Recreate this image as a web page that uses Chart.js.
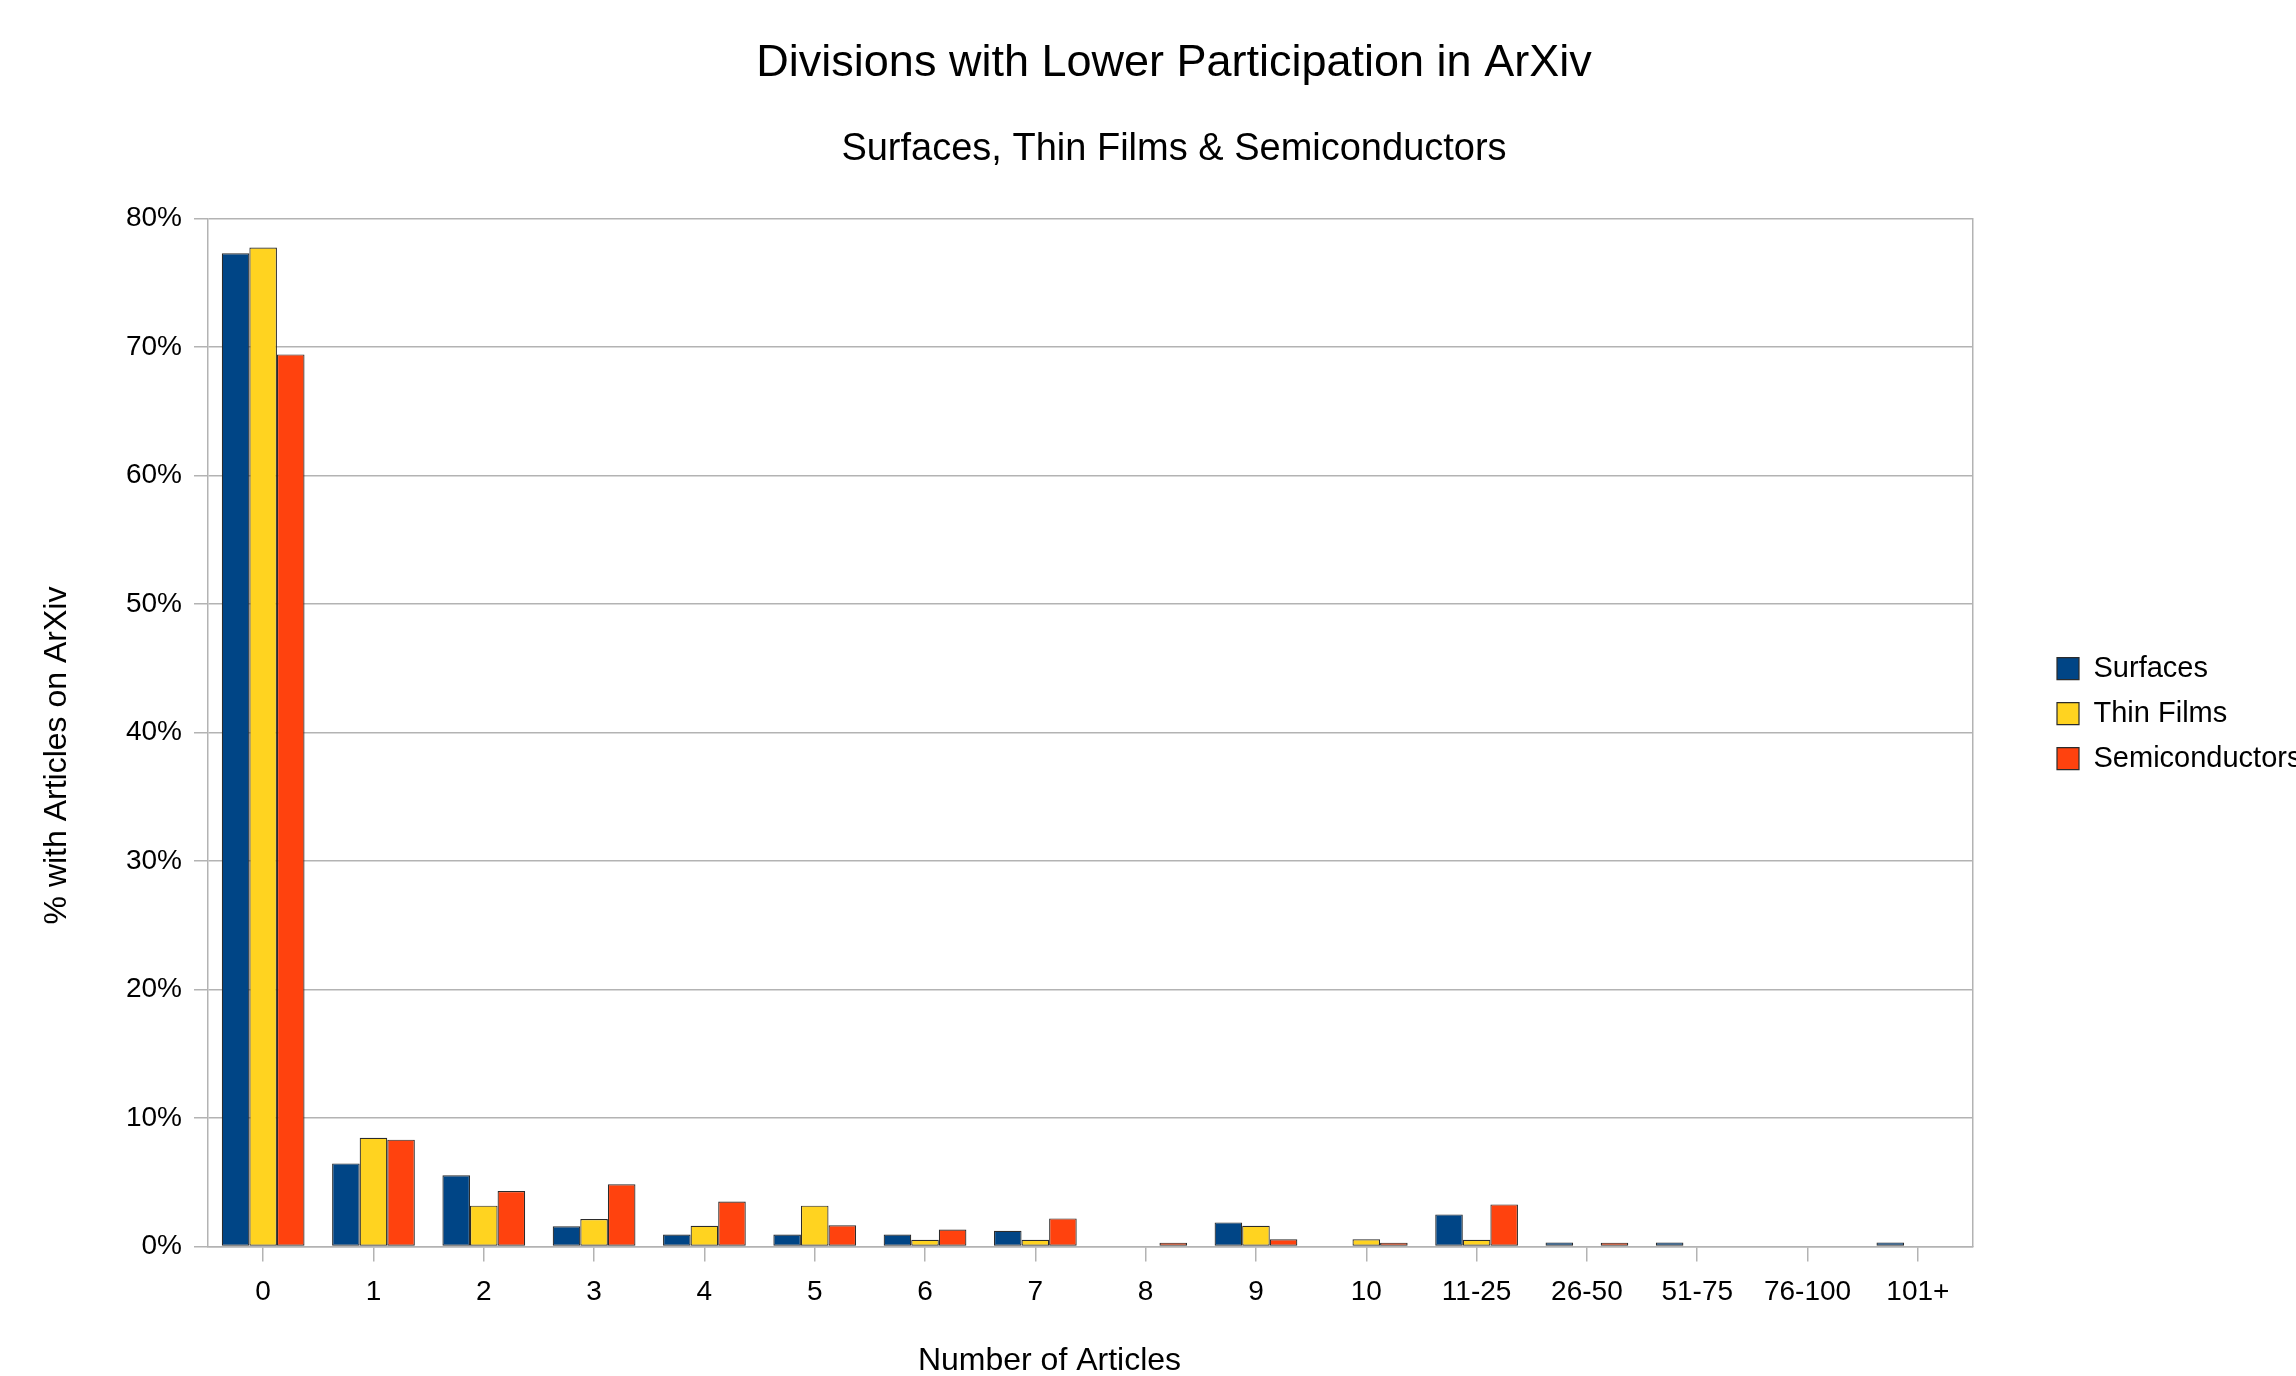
<!DOCTYPE html>
<html>
<head>
<meta charset="utf-8">
<script src="https://cdn.jsdelivr.net/npm/chart.js@4.4.0/dist/chart.umd.min.js"></script>
<style>
    html, body { margin: 0; padding: 0; background: #fff; }
    #wrap { width: 2296px; height: 1376px; }
</style>
</head>
<body>
<div id="wrap"><canvas id="arxivChart" width="2296" height="1376"></canvas></div>
<script>
// categories and values (percent)
const categories = ['0', '1', '2', '3', '4', '5', '6', '7', '8', '9', '10', '11-25', '26-50', '51-75', '76-100', '101+'];
const surfaces = [77.3, 6.46, 5.53, 1.56, 0.93, 0.93, 0.93, 1.22, 0, 1.87, 0, 2.49, 0.31, 0.31, 0, 0.31];
const thinFilms = [77.75, 8.46, 3.17, 2.13, 1.61, 3.17, 0.52, 0.52, 0, 1.61, 0.55, 0.52, 0, 0, 0, 0];
const semiconductors = [69.43, 8.31, 4.31, 4.83, 3.50, 1.64, 1.32, 2.18, 0.29, 0.55, 0.29, 3.27, 0.29, 0, 0, 0];
const seriesNames = ['Surfaces', 'Thin Films', 'Semiconductors'];
const yTicks = [0, 10, 20, 30, 40, 50, 60, 70, 80];

const titleText = 'Divisions with Lower Participation in ArXiv';
const subtitleText = 'Surfaces, Thin Films & Semiconductors';
const xTitle = 'Number of Articles';
const yTitle = '% with Articles on ArXiv';

const colors = {
    surfaces: '#004586',
    thin: '#ffd320',
    semi: '#ff420e',
    grid: '#b3b3b3',
    edge: '#2b2b2b'
};
const FONT = 'Liberation Sans';

// axis titles drawn by hand so they can sit off-centre like the original
const axisTitles = {
    id: 'axisTitles',
    afterDraw(chart) {
        const { ctx, chartArea } = chart;
        ctx.save();
        ctx.fillStyle = '#000';
        ctx.font = '32px "' + FONT + '"';
        ctx.textAlign = 'center';
        ctx.textBaseline = 'middle';
        ctx.fillText(xTitle, (chartArea.left + chartArea.right) / 2 - 41, 1361);
        ctx.translate(57, (chartArea.top + chartArea.bottom) / 2 + 23);
        ctx.rotate(-Math.PI / 2);
        ctx.fillText(yTitle, 0, 0);
        ctx.restore();
    }
};

const makeSet = (label, data, color) => ({
    label: label,
    data: data,
    backgroundColor: color,
    borderColor: colors.edge,
    borderWidth: 1.2,
    borderSkipped: false,
    categoryPercentage: 0.75,
    barPercentage: 1.0
});

new Chart(document.getElementById('arxivChart'), {
    type: 'bar',
    data: {
        labels: categories,
        datasets: [
            makeSet(seriesNames[0], surfaces, colors.surfaces),
            makeSet(seriesNames[1], thinFilms, colors.thin),
            makeSet(seriesNames[2], semiconductors, colors.semi)
        ]
    },
    plugins: [axisTitles],
    options: {
        responsive: false,
        animation: false,
        devicePixelRatio: 1,
        layout: { padding: { left: 52, right: 0, top: 0, bottom: 53 } },
        plugins: {
            title: {
                display: true,
                text: titleText,
                color: '#000',
                font: { family: FONT, size: 45, weight: 'normal' },
                padding: { top: 37, bottom: 0 }
            },
            subtitle: {
                display: true,
                text: subtitleText,
                color: '#000',
                font: { family: FONT, size: 38, weight: 'normal' },
                padding: { top: 36, bottom: 46 }
            },
            legend: {
                position: 'right',
                align: 'start',
                maxWidth: 255,
                // empty title only pushes the items down to where they sit in the original
                title: { display: true, text: '', font: { size: 1 }, padding: { top: 637, bottom: 0 } },
                labels: {
                    color: '#000',
                    font: { family: FONT, size: 29 },
                    boxWidth: 22,
                    boxHeight: 22,
                    padding: 16
                }
            },
            tooltip: { enabled: false }
        },
        scales: {
            x: {
                offset: true,
                grid: {
                    offset: false,
                    drawOnChartArea: false,
                    drawTicks: true,
                    tickLength: 15,
                    color: colors.grid,
                    lineWidth: 1.5
                },
                border: { display: true, color: colors.grid, width: 1.5 },
                ticks: {
                    color: '#000',
                    padding: 14,
                    maxRotation: 0,
                    autoSkip: false,
                    font: { family: FONT, size: 28 }
                }
            },
            y: {
                min: 0,
                max: 80,
                afterBuildTicks: (scale) => { scale.ticks = yTicks.map(v => ({ value: v })); },
                afterFit: (scale) => { scale.width = 156; },
                grid: {
                    color: colors.grid,
                    lineWidth: 1.5,
                    tickLength: 14
                },
                border: { display: true, color: colors.grid, width: 1.5 },
                ticks: {
                    color: '#000',
                    padding: 12,
                    font: { family: FONT, size: 28 },
                    callback: (v) => v + '%'
                }
            },
            yRight: {
                type: 'linear',
                position: 'right',
                grid: { drawOnChartArea: false, drawTicks: false },
                border: { display: true, color: colors.grid, width: 1.5 },
                ticks: { display: false },
                afterFit: (scale) => { scale.width = 68; }
            }
        }
    }
});
</script>
</body>
</html>
